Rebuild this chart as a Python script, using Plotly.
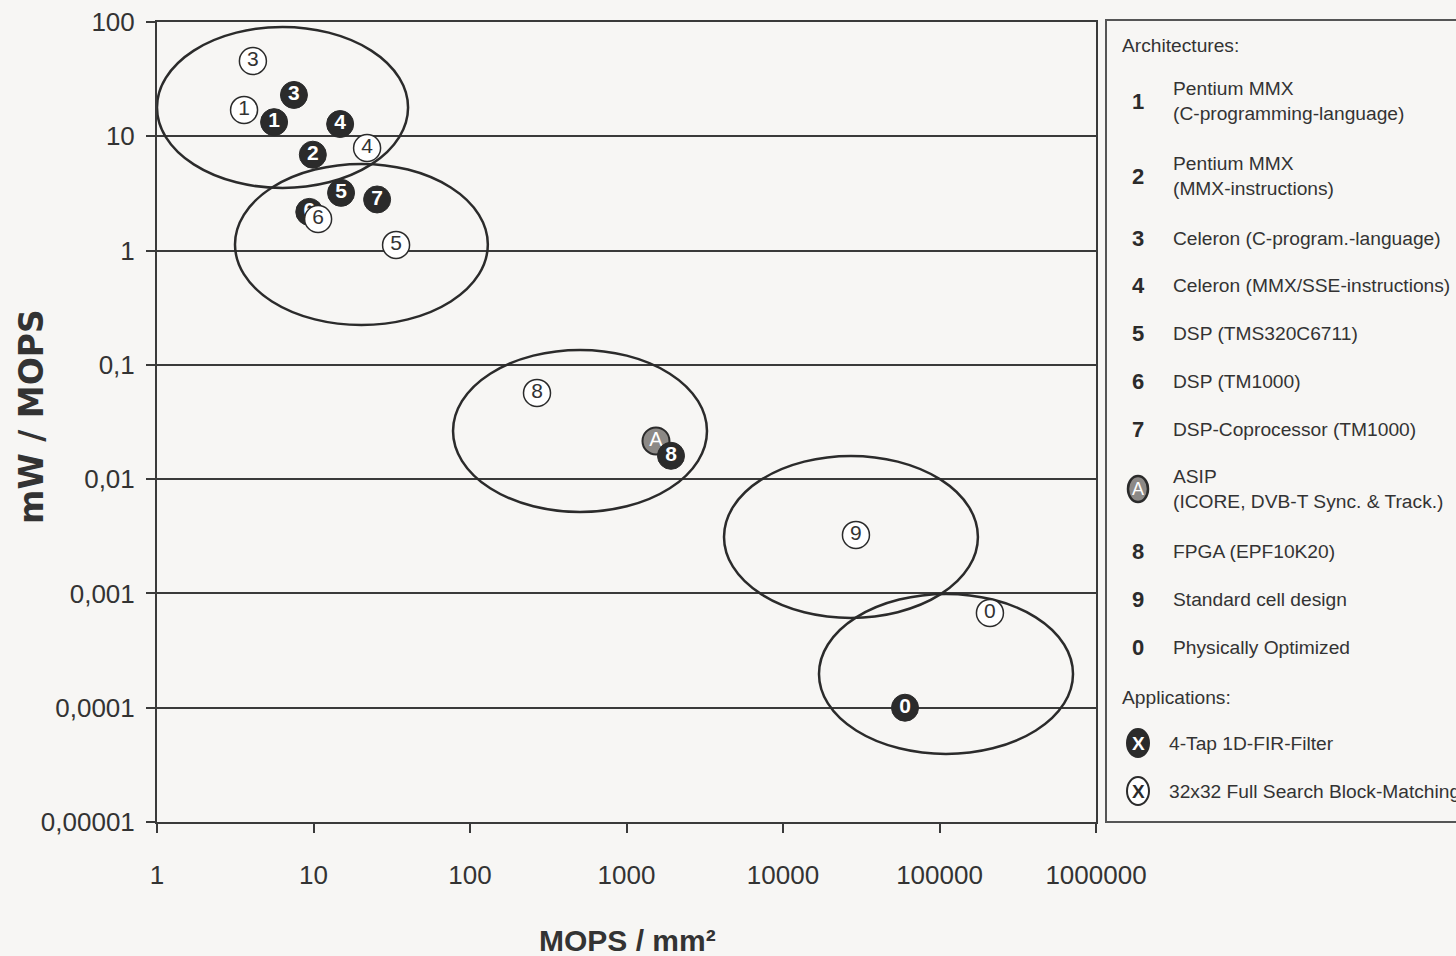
import plotly.graph_objects as go

# ---------------- data ----------------
# FIR filter (filled markers)
fir_labels = ["1", "2", "3", "4", "5", "6", "7", "8", "0"]
fir_x = [5.6, 9.9, 7.5, 14.8, 15.0, 9.4, 25.5, 1925, 60200]
fir_y = [13.3, 6.9, 23.0, 12.8, 3.2, 2.18, 2.8, 0.016, 0.0001]

# ASIP (gray marker)
asip_labels = ["A"]
asip_x = [1543]
asip_y = [0.0216]

# Block matching (outlined markers)
bm_labels = ["1", "3", "4", "5", "6", "8", "9", "0"]
bm_x = [3.6, 4.1, 22.0, 33.7, 10.7, 268, 29250, 210000]
bm_y = [17.0, 45.6, 7.9, 1.12, 1.89, 0.0568, 0.00325, 0.000675]

# cluster ellipses (x0, x1, y0, y1 in data units)
ell_x0 = [1.0, 3.15, 77.9, 4198, 16980]
ell_x1 = [40.2, 130, 3268, 176000, 713000]
ell_y0 = [3.53, 0.223, 0.00516, 0.000611, 0.0000394]
ell_y1 = [90.4, 5.73, 0.135, 0.01596, 0.00099]

x_tickvals = [1, 10, 100, 1000, 10000, 100000, 1000000]
x_ticktext = ["1", "10", "100", "1000", "10000", "100000", "1000000"]
y_tickvals = [100, 10, 1, 0.1, 0.01, 0.001, 0.0001, 0.00001]
y_ticktext = ["100", "10", "1", "0,1", "0,01", "0,001", "0,0001", "0,00001"]

legend_keys = ["1", "2", "3", "4", "5", "6", "7", "A", "8", "9", "0"]
legend_texts = [
    "Pentium MMX<br>(C-programming-language)",
    "Pentium MMX<br>(MMX-instructions)",
    "Celeron (C-program.-language)",
    "Celeron (MMX/SSE-instructions)",
    "DSP (TMS320C6711)",
    "DSP (TM1000)",
    "DSP-Coprocessor (TM1000)",
    "ASIP<br>(ICORE, DVB-T Sync. & Track.)",
    "FPGA (EPF10K20)",
    "Standard cell design",
    "Physically Optimized",
]
app_texts = ["4-Tap 1D-FIR-Filter", "32x32 Full Search Block-Matching"]

# ---------------- style / layout ----------------
W, H = 1456, 956
ML, MR, MT, MB = 157, 360, 22, 134
PW, PH = W - ML - MR, H - MT - MB
BG = "#f7f6f4"
DARK = "#2b2b2b"
TXT = "#333333"
FONT = "Liberation Sans, Arial, sans-serif"


def px(xp):
    return (xp - ML) / PW


def py(yp):
    return (H - MB - yp) / PH


fig = go.Figure()

fig.add_trace(go.Scatter(
    x=asip_x, y=asip_y, text=asip_labels, mode="markers+text",
    marker=dict(size=27, color="#8c8986", line=dict(color=DARK, width=2)),
    textfont=dict(family=FONT, size=20, color="white"),
    textposition="middle center", showlegend=False, hoverinfo="skip"))

fig.add_trace(go.Scatter(
    x=fir_x, y=fir_y, text=fir_labels, mode="markers+text",
    marker=dict(size=27, color=DARK, line=dict(color=DARK, width=1)),
    textfont=dict(family=FONT, size=21, color="white", weight="bold"),
    textposition="middle center", showlegend=False, hoverinfo="skip"))

fig.add_trace(go.Scatter(
    x=bm_x, y=bm_y, text=bm_labels, mode="markers+text",
    marker=dict(size=27, color="white", line=dict(color=DARK, width=1.5)),
    textfont=dict(family=FONT, size=21, color=TXT),
    textposition="middle center", showlegend=False, hoverinfo="skip"))

shapes = []
for x0, x1, y0, y1 in zip(ell_x0, ell_x1, ell_y0, ell_y1):
    shapes.append(dict(type="circle", xref="x", yref="y", x0=x0, x1=x1, y0=y0, y1=y1,
                       line=dict(color=DARK, width=2.5), layer="between"))

# legend box
shapes.append(dict(type="rect", xref="paper", yref="paper",
                   x0=px(1106), x1=px(1500), y0=py(822), y1=py(20),
                   line=dict(color="#555555", width=2), fillcolor=BG, layer="below"))

annotations = []
LEG = 19.2
annotations.append(dict(xref="paper", yref="paper", x=px(1120), y=py(45), text="Architectures:",
                        showarrow=False, xanchor="left", yanchor="middle",
                        font=dict(family=FONT, size=LEG, color=TXT)))
row_y = [101, 176, 238, 285, 333, 381, 429, 489, 551, 599, 647]
for key, txt, ry in zip(legend_keys, legend_texts, row_y):
    if key == "A":
        shapes.append(dict(type="circle", xref="paper", yref="paper",
                           xsizemode="pixel", ysizemode="pixel",
                           xanchor=px(1138), yanchor=py(ry),
                           x0=-10, x1=10, y0=-13, y1=13,
                           fillcolor="#8c8986", line=dict(color=DARK, width=2.5)))
        annotations.append(dict(xref="paper", yref="paper", x=px(1138), y=py(ry), text="A",
                                showarrow=False, xanchor="center", yanchor="middle",
                                font=dict(family=FONT, size=18, color="white")))
    else:
        annotations.append(dict(xref="paper", yref="paper", x=px(1138), y=py(ry), text=key,
                                showarrow=False, xanchor="center", yanchor="middle",
                                font=dict(family=FONT, size=22, color=DARK, weight="bold")))
    annotations.append(dict(xref="paper", yref="paper", x=px(1171), y=py(ry), text=txt,
                            showarrow=False, xanchor="left", yanchor="middle", align="left",
                            font=dict(family=FONT, size=LEG, color=TXT)))

annotations.append(dict(xref="paper", yref="paper", x=px(1120), y=py(697), text="Applications:",
                        showarrow=False, xanchor="left", yanchor="middle",
                        font=dict(family=FONT, size=LEG, color=TXT)))
app_y = [743, 791]
app_fill = [DARK, "white"]
app_font = ["white", DARK]
for txt, ry, fc, tc in zip(app_texts, app_y, app_fill, app_font):
    shapes.append(dict(type="circle", xref="paper", yref="paper",
                       xsizemode="pixel", ysizemode="pixel",
                       xanchor=px(1138), yanchor=py(ry),
                       x0=-11, x1=11, y0=-14, y1=14,
                       fillcolor=fc, line=dict(color=DARK, width=2)))
    annotations.append(dict(xref="paper", yref="paper", x=px(1138), y=py(ry), text="X",
                            showarrow=False, xanchor="center", yanchor="middle",
                            font=dict(family=FONT, size=19, color=tc, weight="bold")))
    annotations.append(dict(xref="paper", yref="paper", x=px(1167), y=py(ry), text=txt,
                            showarrow=False, xanchor="left", yanchor="middle",
                            font=dict(family=FONT, size=LEG, color=TXT)))

# axis titles
annotations.append(dict(xref="paper", yref="paper", x=px(627), y=py(940), text="MOPS / mm²",
                        showarrow=False, xanchor="center", yanchor="middle",
                        font=dict(family=FONT, size=30, color=TXT, weight="bold")))
annotations.append(dict(xref="paper", yref="paper", x=px(31), y=py(417), text="mW / MOPS",
                        showarrow=False, xanchor="center", yanchor="middle", textangle=-90,
                        font=dict(family="DejaVu Sans, Arial, sans-serif", size=33,
                                  color=TXT, weight="bold")))

fig.update_layout(
    width=W, height=H,
    margin=dict(l=ML, r=MR, t=MT, b=MB, pad=0, autoexpand=False),
    paper_bgcolor=BG, plot_bgcolor=BG,
    shapes=shapes, annotations=annotations,
    showlegend=False,
    xaxis=dict(type="log", range=[0, 6], tickvals=x_tickvals, ticktext=x_ticktext,
               automargin=False,
               showgrid=False, zeroline=False,
               showline=True, linecolor="#3a3a3a", linewidth=2, mirror=True,
               ticks="outside", ticklen=9, tickwidth=1.5, tickcolor="#3a3a3a",
               ticklabelstandoff=20,
               tickfont=dict(family=FONT, size=26, color=TXT)),
    yaxis=dict(type="log", range=[-5, 2], tickvals=y_tickvals, ticktext=y_ticktext,
               automargin=False,
               showgrid=True, gridcolor="#3a3a3a", gridwidth=2, zeroline=False,
               showline=True, linecolor="#3a3a3a", linewidth=2, mirror=True,
               ticks="outside", ticklen=9, tickwidth=1.5, tickcolor="#3a3a3a",
               ticklabelstandoff=6,
               tickfont=dict(family=FONT, size=26, color=TXT)),
)

fig.write_html("out.html", config={"displayModeBar": False},
               post_script="document.body.style.margin='0px';")
